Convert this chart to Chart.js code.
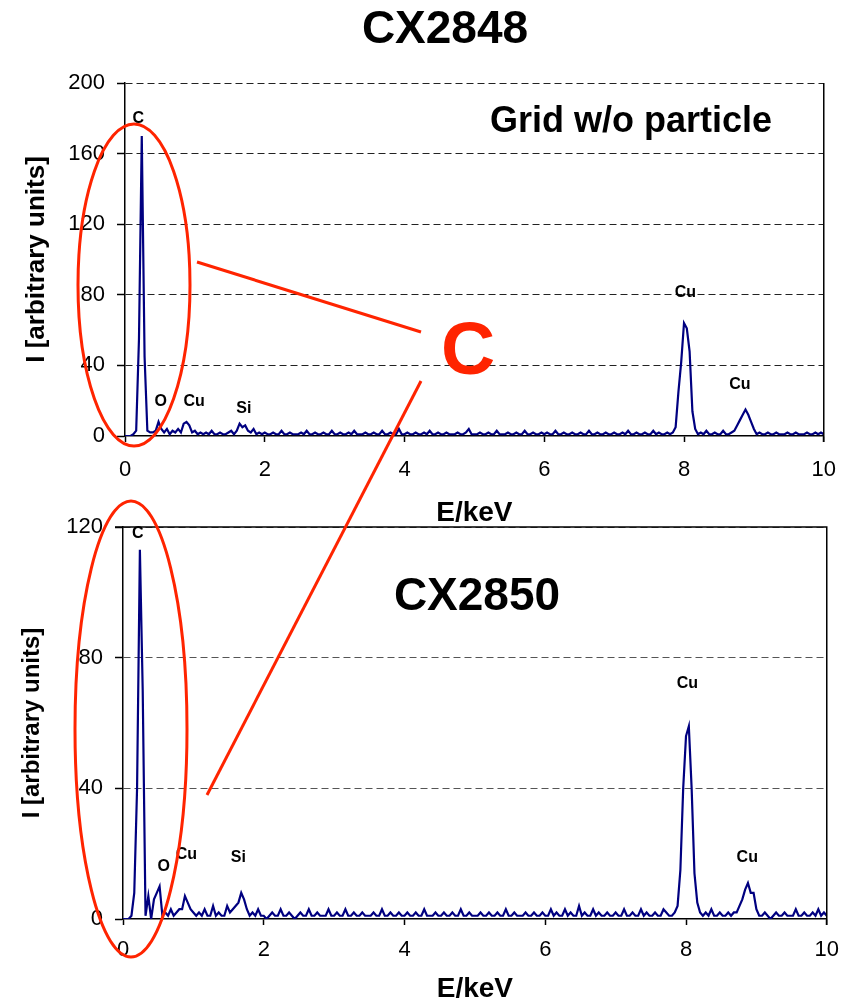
<!DOCTYPE html>
<html>
<head>
<meta charset="utf-8">
<script src="https://cdn.jsdelivr.net/npm/chart.js@4/dist/chart.umd.min.js"></script>
<style>
html,body{margin:0;padding:0;background:#fff;}
#wrap{position:relative;width:851px;height:1003px;overflow:hidden;font-family:"Liberation Sans",Arial,sans-serif;}
canvas{position:absolute;left:0;}
.t{position:absolute;font-weight:bold;color:#000;white-space:nowrap;transform:translate(-50%,-50%);line-height:1;}
svg{position:absolute;left:0;top:0;}
</style>
</head>
<body>
<div id="wrap">
<canvas id="c1" width="851" height="530" style="top:0"></canvas>
<canvas id="c2" width="851" height="503" style="top:500px"></canvas>
<div class="t" style="left:445px;top:27px;font-size:46px">CX2848</div>
<div class="t" style="left:631px;top:120px;font-size:36px">Grid w/o particle</div>
<div class="t" style="left:477px;top:594px;font-size:46px">CX2850</div>
<svg width="851" height="1003">
  <ellipse cx="134" cy="285" rx="56" ry="161" fill="none" stroke="#ff2400" stroke-width="3"/>
  <ellipse cx="131" cy="729" rx="56" ry="228" fill="none" stroke="#ff2400" stroke-width="3"/>
  <line x1="197" y1="262" x2="421" y2="332" stroke="#ff2400" stroke-width="3"/>
  <line x1="421" y1="381" x2="207" y2="795" stroke="#ff2400" stroke-width="3"/>
</svg>
<div class="t" style="left:468px;top:348px;font-size:75px;color:#ff2400">C</div>
</div>
<script>
// Spectrum channels are 0.04 keV apart, starting at 0 keV (251 channels, 0..10 keV)
const E_STEP = 0.04;

// CX2848 (Grid w/o particle) intensities, one row per keV
const countsCX2848 = [
  0,0,0,1,3,55,170,45,3,2,2,3,8,4,2,4,1,3,2,4,2,7,8,6,2,
  3,1,2,1,2,1,3,1,1,2,1,1,2,3,1,3,7,5,6,3,2,4,1,2,1,
  2,1,1,2,1,1,3,1,1,2,1,1,1,2,1,3,1,1,2,1,1,2,1,1,3,
  1,1,2,1,1,2,1,3,1,1,1,2,1,1,2,1,1,3,1,1,2,1,1,4,1,
  1,2,1,1,2,1,1,2,1,3,1,1,2,1,1,2,1,1,1,2,1,1,2,4,1,
  1,1,2,1,1,2,1,1,3,1,1,1,2,1,1,2,1,1,3,1,1,2,1,1,2,
  1,2,1,1,3,1,1,2,1,1,2,1,1,2,1,1,3,1,1,2,1,1,2,1,1,
  2,1,1,2,1,3,1,1,2,1,1,2,1,1,3,1,2,1,1,2,1,2,5,25,42,
  64,61,48,14,4,1,2,1,3,1,1,2,1,1,3,1,1,2,3,6,9,12,15,12,8,
  4,1,2,1,1,2,1,1,2,1,1,1,2,1,1,2,1,1,1,2,1,1,2,1,2,
  1
];

// CX2850 intensities, one row per keV
const countsCX2850 = [
  0,0,0,1,8,40,113,70,1,7,0,6,8,10,1,2,1,3,1,2,3,3,7,5,3,
  2,1,2,1,3,1,1,4,1,2,1,1,4,2,3,4,5,8,6,3,1,2,1,3,1,
  1,0,1,2,1,1,3,1,1,2,1,0,1,2,1,1,3,1,1,2,1,1,1,3,1,
  1,2,1,1,3,1,1,2,1,1,2,1,1,1,2,1,1,3,1,1,2,1,1,2,1,
  1,2,1,1,2,1,1,3,1,1,1,2,1,1,2,1,1,2,1,1,3,1,1,2,1,
  1,1,2,1,1,2,1,1,2,1,1,3,1,1,2,1,1,1,2,1,1,2,1,1,2,
  1,1,3,1,2,1,1,3,1,2,1,1,4,1,2,1,1,3,1,2,1,1,2,1,1,
  2,1,1,3,1,1,2,1,1,3,1,2,1,1,2,1,1,3,2,1,1,2,4,15,40,
  56,59,40,14,5,2,1,2,1,3,1,1,2,1,1,2,1,2,2,4,6,9,11,8,8,
  3,1,1,2,1,0,1,2,1,1,2,1,1,1,3,1,1,2,1,1,2,1,3,1,2,
  1
];

// Tick values
const xTicks = [0,2,4,6,8,10];
const yTicksTop = [0,40,80,120,160,200];
const yTicksBottom = [0,40,80,120];

// Peak labels (element, energy keV, intensity at label)
const peakNamesTop = ['C','O','Cu','Si','Cu','Cu'];
const peakETop     = [0.19,0.51,0.99,1.70,8.02,8.80];
const peakITop     = [180,19.7,19.4,15.7,81.3,29];
const peakNamesBottom = ['C','O','Cu','Si','Cu','Cu'];
const peakEBottom     = [0.21,0.58,0.90,1.64,8.02,8.87];
const peakIBottom     = [118,15.9,19.7,18.9,72,18.9];

const FAM = '"Liberation Sans", Arial, sans-serif';
Chart.defaults.font.family = FAM;

function toXY(arr){ return arr.map((v,i)=>({x: i*E_STEP, y: v})); }

const framePlugin = {
  id: 'frameAndLabels',
  afterDatasetsDraw(chart, args, opts){
    const {ctx, chartArea:a, scales:{x,y}} = chart;
    ctx.save();
    ctx.strokeStyle = '#000';
    ctx.lineWidth = 1.5;
    ctx.setLineDash([]);
    ctx.beginPath();
    ctx.moveTo(a.right, a.bottom + 6);
    ctx.lineTo(a.right, a.top);
    if (opts.topBorder) { ctx.lineTo(a.left - 8, a.top); }
    ctx.stroke();
    ctx.fillStyle = '#000';
    ctx.font = 'bold 16px ' + FAM;
    ctx.textAlign = 'center';
    ctx.textBaseline = 'middle';
    opts.names.forEach((n,i)=>{
      ctx.fillText(n, x.getPixelForValue(opts.e[i]), y.getPixelForValue(opts.v[i]));
    });
    ctx.restore();
  }
};

function makeChart(id, data, cfg){
  return new Chart(document.getElementById(id), {
    type: 'line',
    data: { datasets: [{
      data: toXY(data),
      borderColor: '#000080',
      borderWidth: 2.2,
      pointRadius: 0,
      tension: 0,
      fill: false
    }]},
    plugins: [framePlugin],
    options: {
      responsive: false,
      animation: false,
      devicePixelRatio: 1,
      layout: { padding: cfg.padding },
      plugins: {
        legend: {display:false},
        tooltip: {enabled:false},
        frameAndLabels: { topBorder: cfg.topBorder, names: cfg.names, e: cfg.e, v: cfg.v }
      },
      scales: {
        x: {
          type: 'linear', min: 0, max: 10,
          afterBuildTicks: s => { s.ticks = xTicks.map(v=>({value:v})); },
          ticks: { color:'#000', font:{size:22}, padding: cfg.xPad, maxRotation:0 },
          grid: { drawOnChartArea:false, drawTicks:true, tickLength:6, tickColor:'#000', tickWidth:1.5 },
          border: { display:true, color:'#000', width:1.5 },
          title: { display:true, text:'E/keV', color:'#000',
                   font:{size:28, weight:'bold', lineHeight:1}, padding:{top:0,bottom:cfg.xTitlePad} },
          afterFit: s => { s.height = cfg.xHeight; }
        },
        y: {
          min: 0, max: cfg.yMax,
          afterBuildTicks: s => { s.ticks = cfg.yTicks.map(v=>({value:v})); },
          ticks: { color:'#000', font:{size:22}, padding:12 },
          grid: { color: c => (c.tick && c.tick.value === 0) ? 'rgba(0,0,0,0)' : cfg.gridColor,
                  lineWidth:1, tickLength:8, tickColor:'#000', tickWidth:1.5, tickBorderDash:[] },
          border: { display:true, color:'#000', width:1.5, dash:[7,4] },
          title: { display:true, text:'I [arbitrary units]', color:'#000',
                   font:{size:cfg.yTitleSize, weight:'bold', lineHeight:1}, padding:{top:cfg.yTitlePad,bottom:0} },
          afterFit: s => { s.width = cfg.yWidth; }
        }
      }
    }
  });
}

makeChart('c1', countsCX2848, {
  padding: {top:83, right:23, bottom:0, left:0},
  xHeight: 94, yWidth: 125, yMax: 200, yTicks: yTicksTop,
  xPad: 15, xTitlePad: 3, yTitlePad: 24, yTitleSize: 26,
  gridColor: '#222', topBorder: false,
  names: peakNamesTop, e: peakETop, v: peakITop
});

makeChart('c2', countsCX2850, {
  padding: {top:27, right:21, bottom:0, left:0},
  xHeight: 84, yWidth: 123, yMax: 120, yTicks: yTicksBottom,
  xPad: 12, xTitlePad: 0, yTitlePad: 20, yTitleSize: 24,
  gridColor: '#555', topBorder: true,
  names: peakNamesBottom, e: peakEBottom, v: peakIBottom
});
</script>
</body>
</html>
